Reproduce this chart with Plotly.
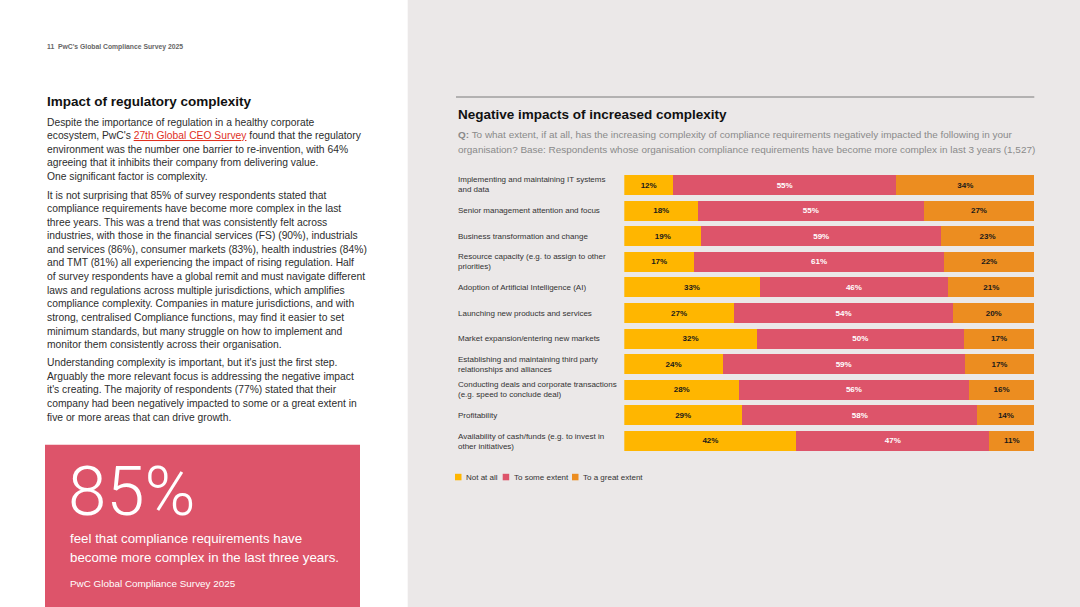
import plotly.graph_objects as go

W, H = 1080, 607

categories = [
    "Implementing and maintaining IT systems<br>and data",
    "Senior management attention and focus",
    "Business transformation and change",
    "Resource capacity (e.g. to assign to other<br>priorities)",
    "Adoption of Artificial Intelligence (AI)",
    "Launching new products and services",
    "Market expansion/entering new markets",
    "Establishing and maintaining third party<br>relationships and alliances",
    "Conducting deals and corporate transactions<br>(e.g. speed to conclude deal)",
    "Profitability",
    "Availability of cash/funds (e.g. to invest in<br>other initiatives)",
]
not_at_all = [12, 18, 19, 17, 33, 27, 32, 24, 28, 29, 42]
some_extent = [55, 55, 59, 61, 46, 54, 50, 59, 56, 58, 47]
great_extent = [34, 27, 23, 22, 21, 20, 17, 17, 16, 14, 11]
series_names = ["Not at all", "To some extent", "To a great extent"]

YELLOW = "#FFB600"
PINK = "#DD546A"
ORANGE = "#EC8D20"
BG_GRAY = "#EBE8E8"
FONT = "Liberation Sans"


def px(x):
    return x / W


def py(y):
    return 1 - y / H


fig = go.Figure()
cat_ids = list(range(len(categories)))
for vals, name, color, tcolor in [
    (not_at_all, series_names[0], YELLOW, "#1a1a1a"),
    (some_extent, series_names[1], PINK, "#ffffff"),
    (great_extent, series_names[2], ORANGE, "#1a1a1a"),
]:
    fig.add_trace(go.Bar(
        y=cat_ids, x=vals, name=name, orientation="h",
        marker=dict(color=color, line=dict(width=0)),
        text=[f"{v}%" for v in vals],
        texttemplate="<b>%{text}</b>",
        textposition="inside", insidetextanchor="middle", textangle=0,
        textfont=dict(family=FONT, size=8, color=tcolor),
        showlegend=False, hoverinfo="skip",
    ))

fig.update_layout(
    width=W, height=H, margin=dict(l=0, r=0, t=0, b=0),
    paper_bgcolor="white", plot_bgcolor="rgba(0,0,0,0)",
    barmode="stack", barnorm="percent", bargap=0.22,
    xaxis=dict(domain=[px(624.3), px(1034.3)], range=[0, 100], visible=False, fixedrange=True),
    yaxis=dict(domain=[py(453.8), py(172.2)], range=[len(categories) - 0.5, -0.5],
               visible=False, fixedrange=True),
    font=dict(family=FONT),
)

shapes = [
    dict(type="rect", xref="paper", yref="paper", x0=px(407.7), x1=1, y0=0, y1=1,
         fillcolor=BG_GRAY, line=dict(width=0), layer="below"),
    dict(type="rect", xref="paper", yref="paper", x0=px(45), x1=px(360), y0=0, y1=py(444.7),
         fillcolor=PINK, line=dict(width=0), layer="below"),
    dict(type="line", xref="paper", yref="paper", x0=px(456), x1=px(1034.3), y0=py(97), y1=py(97),
         line=dict(color="#7a7a7a", width=1)),
]

ann = []


def txt(x, y, s, size, color, bold=False, anchor="left", family=FONT, weight=None, yanchor="middle"):
    f = dict(family=family, size=size, color=color)
    if weight is not None:
        f["weight"] = weight
    ann.append(dict(xref="paper", yref="paper", x=px(x), y=py(y), text=(f"<b>{s}</b>" if bold else s),
                    showarrow=False, xanchor=anchor, yanchor=yanchor, align="left", font=f))


# left page
txt(45, 47.3, "11  PwC's Global Compliance Survey 2025", 6.8, "#666666", bold=True)
txt(45, 101.7, "Impact of regulatory complexity", 13.5, "#111111", bold=True)

link = '<span style="color:#E0301E;text-decoration:underline">27th Global CEO Survey</span>'
p1 = [
    "Despite the importance of regulation in a healthy corporate",
    f"ecosystem, PwC's {link} found that the regulatory",
    "environment was the number one barrier to re-invention, with 64%",
    "agreeing that it inhibits their company from delivering value.",
    "One significant factor is complexity.",
]
p2 = [
    "It is not surprising that 85% of survey respondents stated that",
    "compliance requirements have become more complex in the last",
    "three years. This was a trend that was consistently felt across",
    "industries, with those in the financial services (FS) (90%), industrials",
    "and services (86%), consumer markets (83%), health industries (84%)",
    "and TMT (81%) all experiencing the impact of rising regulation. Half",
    "of survey respondents have a global remit and must navigate different",
    "laws and regulations across multiple jurisdictions, which amplifies",
    "compliance complexity. Companies in mature jurisdictions, and with",
    "strong, centralised Compliance functions, may find it easier to set",
    "minimum standards, but many struggle on how to implement and",
    "monitor them consistently across their organisation.",
]
p3 = [
    "Understanding complexity is important, but it's just the first step.",
    "Arguably the more relevant focus is addressing the negative impact",
    "it's creating. The majority of respondents (77%) stated that their",
    "company had been negatively impacted to some or a great extent in",
    "five or more areas that can drive growth.",
]
for start, lines in [(122, p1), (195, p2), (362.7, p3)]:
    for i, line in enumerate(lines):
        txt(45, start + i * 13.6, line, 10.3, "#2d2d2d")

# callout box
txt(66, 491.5, "85%", 69, "#ffffff", family="Roboto", weight=300)
txt(68, 538.5, "feel that compliance requirements have", 13.3, "#ffffff")
txt(68, 557.5, "become more complex in the last three years.", 13.3, "#ffffff")
txt(68, 583, "PwC Global Compliance Survey 2025", 9.9, "#ffffff")

# right page
txt(456, 115, "Negative impacts of increased complexity", 13.5, "#111111", bold=True)
txt(456, 135, "<b>Q:</b> To what extent, if at all, has the increasing complexity of compliance requirements negatively impacted the following in your",
    9.95, "#8a8a8a")
txt(456, 149, "organisation? Base: Respondents whose organisation compliance requirements have become more complex in last 3 years (1,527)",
    9.95, "#8a8a8a")

for i, c in enumerate(categories):
    ann.append(dict(xref="paper", yref="y", x=px(456), y=i, text=c, showarrow=False,
                    xanchor="left", yanchor="middle", align="left",
                    font=dict(family=FONT, size=8, color="#333333")))

# legend
legend_items = [(455, YELLOW, series_names[0]), (502.7, PINK, series_names[1]), (572, ORANGE, series_names[2])]
for x0, col, name in legend_items:
    shapes.append(dict(type="rect", xref="paper", yref="paper", x0=px(x0), x1=px(x0 + 6.5),
                       y0=py(480.3), y1=py(473.8), fillcolor=col, line=dict(width=0)))
    txt(x0 + 9, 477, name, 8, "#333333")

fig.update_layout(shapes=shapes, annotations=ann)
fig.write_html(
    "out.html",
    config={"displayModeBar": False},
    post_script="document.body.style.margin='0';document.body.style.overflow='hidden';",
)
